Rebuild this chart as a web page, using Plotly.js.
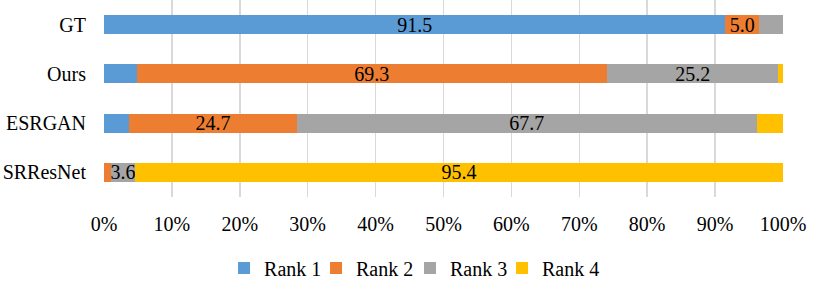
<!DOCTYPE html>
<html>
<head>
<meta charset="utf-8">
<script src="https://cdn.plot.ly/plotly-3.0.1.min.js"></script>
<style>html,body{margin:0;padding:0;background:#fff;}#chart{width:831px;height:286px;}</style>
</head>
<body>
<div id="chart"></div>
<script>
const categories = ['GT', 'Ours', 'ESRGAN', 'SRResNet'];
const seriesNames = ['Rank 1', 'Rank 2', 'Rank 3', 'Rank 4'];
const rank1 = [91.5, 4.8, 3.7, 0];
const rank2 = [5.0, 69.3, 24.7, 1.0];
const rank3 = [3.5, 25.2, 67.7, 3.6];
const rank4 = [0, 0.7, 3.9, 95.4];
const rank1Labels = ['91.5', '', '', ''];
const rank2Labels = ['5.0', '69.3', '24.7', ''];
const rank3Labels = ['', '25.2', '67.7', '3.6'];
const rank4Labels = ['', '', '', '95.4'];
const xTicks = [0, 10, 20, 30, 40, 50, 60, 70, 80, 90, 100];
const colors = ['#5B9BD5', '#ED7D31', '#A5A5A5', '#FFC000'];

const font = 'Liberation Serif';
const values = [rank1, rank2, rank3, rank4];
const labels = [rank1Labels, rank2Labels, rank3Labels, rank4Labels];
const legendIds = ['legend', 'legend2', 'legend3', 'legend4'];
const legendX = [0.2696, 0.3803, 0.4934, 0.6041];

const traces = values.map((v, i) => ({
  type: 'bar',
  orientation: 'h',
  name: seriesNames[i],
  legend: legendIds[i],
  y: categories,
  x: v,
  text: labels[i],
  textposition: 'inside',
  insidetextanchor: 'middle',
  constraintext: 'none',
  insidetextfont: {family: font, size: 20, color: '#000'},
  textfont: {family: font, size: 20, color: '#000'},
  marker: {color: colors[i], line: {width: 0}},
  cliponaxis: false,
  hoverinfo: 'skip'
}));

const layout = {
  width: 831, height: 286,
  margin: {l: 104, r: 48, t: 0, b: 89},
  barmode: 'stack',
  bargap: 0.61,
  paper_bgcolor: '#fff',
  plot_bgcolor: '#fff',
  font: {family: font, size: 20, color: '#000'},
  xaxis: {
    range: [0, 100],
    tickvals: xTicks,
    ticktext: xTicks.map(t => t + '%'),
    showgrid: true,
    gridcolor: '#D9D9D9',
    gridwidth: 1.5,
    zeroline: false,
    showline: false,
    ticks: '',
    ticklabelstandoff: 13,
    tickfont: {family: font, size: 20, color: '#000'},
    fixedrange: true
  },
  yaxis: {
    type: 'category',
    autorange: 'reversed',
    showgrid: false,
    zeroline: false,
    showline: false,
    ticks: '',
    ticklabelstandoff: 17,
    tickfont: {family: font, size: 20, color: '#000'},
    fixedrange: true
  },
  showlegend: true
};

legendIds.forEach((id, i) => {
  layout[id] = {
    orientation: 'h',
    xref: 'container', yref: 'container',
    x: legendX[i], xanchor: 'left',
    y: 0.063, yanchor: 'middle',
    itemwidth: 30,
    bgcolor: 'rgba(0,0,0,0)',
    font: {family: font, size: 20, color: '#000'}
  };
});

Plotly.newPlot('chart', traces, layout, {displayModeBar: false, staticPlot: true});
</script>
</body>
</html>
